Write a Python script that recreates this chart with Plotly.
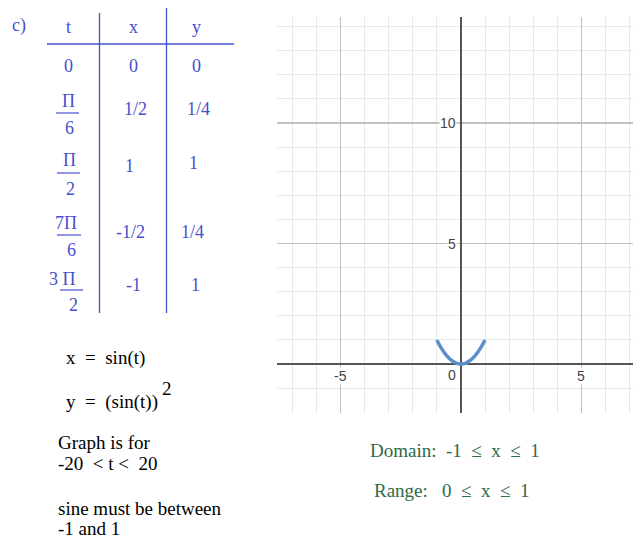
import plotly.graph_objects as go

W, H = 633, 539

# ---- data ----
table_header = ["t", "x", "y"]
t_labels = ["0", "π/6", "π/2", "7π/6", "3π/2"]
x_values = ["0", "1/2", "1", "-1/2", "-1"]
y_values = ["0", "1/4", "1", "1/4", "1"]

# curve points (x = sin t, y = sin^2 t)
curve_x = [-1.0, -0.8, -0.6, -0.4, -0.2, 0.0, 0.2, 0.4, 0.6, 0.8, 1.0]
curve_y = [1.0, 0.64, 0.36, 0.16, 0.04, 0.0, 0.04, 0.16, 0.36, 0.64, 1.0]

x_tick_vals = [-5, 5]
y_tick_vals = [5, 10]

BLUE = "#4650cc"
GREEN = "#2f6b45"
SERIF = "Liberation Serif, Times New Roman, serif"
SANS = "Liberation Sans, Arial, sans-serif"


def px(x):
    return x / W


def py(y):
    return 1 - y / H


fig = go.Figure()
fig.add_trace(go.Scatter(
    x=curve_x, y=curve_y, mode="lines",
    line=dict(color="#5b8fc9", width=3.5, shape="spline"),
    hoverinfo="skip", showlegend=False))

# plot area in pixels
L, R, T, B = 277, 633, 17, 413
fig.update_layout(
    width=W, height=H, margin=dict(l=0, r=0, t=0, b=0),
    paper_bgcolor="white", plot_bgcolor="white", showlegend=False,
    xaxis=dict(domain=[px(L), px(R)], range=[-7.63, 7.14], tick0=0, dtick=5,
               showgrid=True, gridcolor="#c0c0c0", gridwidth=1.5,
               minor=dict(dtick=1, showgrid=True, gridcolor="#e8e8e8", gridwidth=1),
               zeroline=True, zerolinecolor="#555555", zerolinewidth=2,
               showticklabels=False, ticks="", showline=False, fixedrange=True),
    yaxis=dict(domain=[py(B), py(T)], range=[-2.03, 14.4], tick0=0, dtick=5,
               showgrid=True, gridcolor="#c0c0c0", gridwidth=1.5,
               minor=dict(dtick=1, showgrid=True, gridcolor="#e8e8e8", gridwidth=1),
               zeroline=True, zerolinecolor="#555555", zerolinewidth=2,
               showticklabels=False, ticks="", showline=False, fixedrange=True),
)

ann = []
# axis tick labels
for v in y_tick_vals:
    ann.append(dict(x=0, y=v, xref="x", yref="y", text=str(v), showarrow=False,
                    xanchor="right", yanchor="middle", xshift=-4,
                    font=dict(family=SANS, size=14, color="#444444"),
                    bgcolor="white", borderpad=0))
for v in x_tick_vals:
    ann.append(dict(x=v, y=0, xref="x", yref="y", text=str(v), showarrow=False,
                    xanchor="center", yanchor="top", yshift=-3,
                    font=dict(family=SANS, size=14, color="#444444"),
                    bgcolor="white", borderpad=0))
ann.append(dict(x=0, y=0, xref="x", yref="y", text="0", showarrow=False,
                xanchor="right", yanchor="top", xshift=-4, yshift=-2,
                font=dict(family=SANS, size=14, color="#444444"),
                bgcolor="white", borderpad=0))


def text(x, y, s, color, size=18, anchor="center"):
    ann.append(dict(x=px(x), y=py(y), xref="paper", yref="paper", text=s,
                    showarrow=False, xanchor=anchor, yanchor="middle",
                    font=dict(family=SERIF, size=size, color=color)))


# table
text(19, 26, "c)", BLUE, 18)
col_x = [68, 133, 196]
for cx, h in zip(col_x, table_header):
    text(cx, 27, h, BLUE, 18)

# rows: t cell
text(68, 66, t_labels[0], BLUE, 18)
frac_specs = [  # (numerator, denominator, num_y, bar_y, den_y, bar_x0, bar_x1, num_x)
    ("Π", "6", 101, 113, 128, 56, 79, 68),
    ("Π", "2", 160, 173, 189, 57, 80, 69),
    ("7Π", "6", 223, 235, 250, 57, 81, 66),
    ("3 Π", "2", 279, 290, 305, 60, 83, 62),
]
shapes = []
for (num, den, ny, by, dy, bx0, bx1, nx) in frac_specs:
    text(nx, ny, num, BLUE, 18)
    text((bx0 + bx1) / 2 + 2, dy, den, BLUE, 18)
    shapes.append(dict(type="line", xref="paper", yref="paper",
                       x0=px(bx0), x1=px(bx1), y0=py(by), y1=py(by),
                       line=dict(color=BLUE, width=1.2)))

row_y_x = [66, 109, 166, 232, 285]
row_y_y = [66, 109, 163, 232, 285]
row_cx_x = [133, 135, 129, 130, 133]
row_cx_y = [196, 198, 193, 192, 195]
for i in range(5):
    text(row_cx_x[i], row_y_x[i], x_values[i], BLUE, 18)
    text(row_cx_y[i], row_y_y[i], y_values[i], BLUE, 18)

# table lines
shapes.append(dict(type="line", xref="paper", yref="paper",
                   x0=px(47), x1=px(234), y0=py(44), y1=py(44),
                   line=dict(color=BLUE, width=1.3)))
shapes.append(dict(type="line", xref="paper", yref="paper",
                   x0=px(99.5), x1=px(99.5), y0=py(13), y1=py(313),
                   line=dict(color=BLUE, width=1.3)))
shapes.append(dict(type="line", xref="paper", yref="paper",
                   x0=px(166.5), x1=px(166.5), y0=py(8), y1=py(313),
                   line=dict(color=BLUE, width=1.3)))

# equations & notes
text(64, 358, "x  =  sin(t)", "black", 19, "left")
text(64, 402, "y  =  (sin(t))", "black", 19, "left")
text(160, 388, "2", "black", 19, "left")
text(56, 442, "Graph is for", "black", 19, "left")
text(56, 463, "-20  &lt; t &lt;  20", "black", 19, "left")
text(56, 508, "sine must be between", "black", 19, "left")
text(56, 528, "-1 and 1", "black", 19, "left")

# domain / range
text(368, 450, "Domain:  -1  ≤  x  ≤  1", GREEN, 19, "left")
text(372, 490, "Range:   0  ≤  x  ≤  1", GREEN, 19, "left")

fig.update_layout(annotations=ann, shapes=shapes)
fig.write_html("out.html",
               config=dict(displayModeBar=False, staticPlot=True),
               post_script="document.body.style.margin='0';"
                           "document.body.style.overflow='hidden';")
